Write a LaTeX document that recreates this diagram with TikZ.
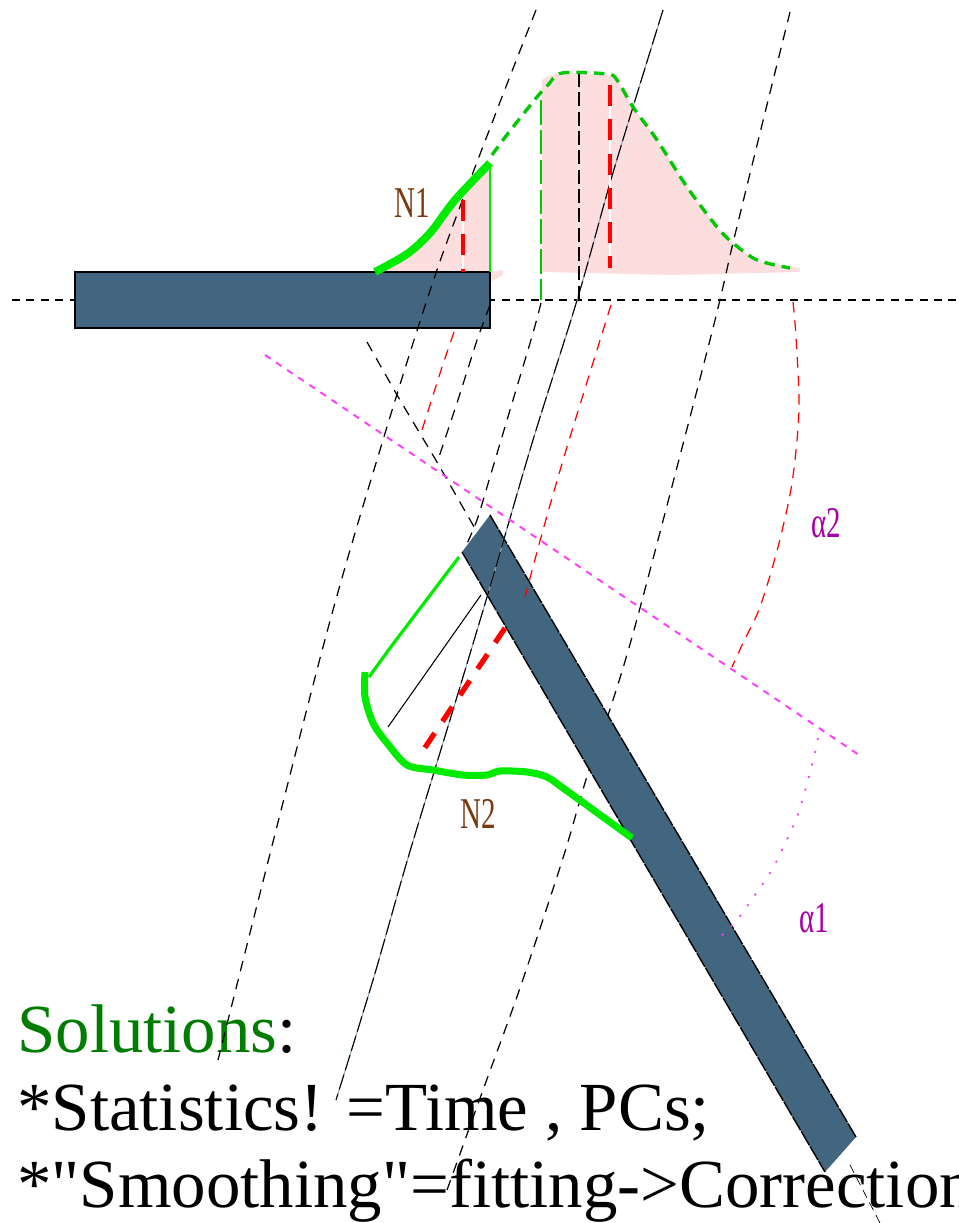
\documentclass[tikz,border=0pt]{standalone}
\usepackage{fontspec}
\setmainfont{Liberation Serif}
\newfontfamily\narrowfont[FakeStretch=0.66]{Liberation Serif}
\newfontfamily\plainfont{Liberation Serif}
\usepackage{xcolor}
\definecolor{beltblue}{RGB}{67,102,128}
\definecolor{softpink}{RGB}{253,222,222}
\definecolor{brightgreen}{RGB}{0,235,0}
\definecolor{dashgreen}{RGB}{0,200,0}
\definecolor{textgreen}{RGB}{0,125,0}
\definecolor{softmagenta}{RGB}{255,60,255}
\definecolor{labelpurple}{RGB}{165,0,170}
\definecolor{labelbrown}{RGB}{122,58,16}
\tikzset{
    belt/.style={fill=beltblue},
    thindash/.style={line width=0.7pt, dash pattern=on 6pt off 4.5pt},
    bigred/.style={red, line width=2.6pt, dash pattern=on 12pt off 7.5pt},
    magdash/.style={softmagenta, line width=1.1pt, dash pattern=on 3.8pt off 3.8pt},
    smalllabel/.style={font=\narrowfont\fontsize{25}{25}\selectfont, inner sep=0pt},
    bigtext/.style={font=\plainfont\fontsize{39.2}{39.2}\selectfont, inner sep=0pt, anchor=base west}
}
\begin{document}
\begin{tikzpicture}[x=0.02cm, y=-0.02cm]
    \useasboundingbox (0,0) rectangle (959,1223);
    \clip (0,0) rectangle (959,1223);

    % Text at the bottom
    \node[bigtext] (sol) at (17,1052) {\textcolor{textgreen}{Solutions}:};
    \node[bigtext] (stat) at (17,1130) {*Statistics! =Time , PCs;};
    \node[bigtext] (smooth) at (17,1207) {*"Smoothing"=fitting->Correction};

    % Pink areas under the profile
    \fill[softpink] (375,272) -- (407,254) -- (430,233) -- (455,200) -- (490,163) -- (490,272)
        -- (503,270) -- (503,275) -- (490,282) -- (490,272) -- cycle;
    \fill[softpink] plot[smooth] coordinates {(542,80) (560,73) (607,75) (617,80) (633,107)
        (657,140) (687,187) (717,227) (733,243) (757,260) (800,268)}
        -- (800,272) -- (673,275) -- (542,272) -- cycle;

    % Horizontal beam axis and flat belt
    \draw[line width=0.8pt, dash pattern=on 4.5pt off 3.7pt] (12,300) -- (959,300);
    \draw[belt, draw=black, line width=0.9pt] (75,272) rectangle (490,328);

    % Right ray passes behind the inclined belt
    \draw[thindash] plot[smooth] coordinates {(790,12) (760,133) (733,243) (712,332) (640,608) (613,700) (588,773) (563,858) (520,988) (483,1090) (447,1190)};

    % Inclined belt
    \fill[belt] (490,515) -- (462,552) -- (825,1172) -- (856,1137) -- cycle;
    \draw[line width=0.8pt, dash pattern=on 9pt off 0.8pt] (490,515) -- (856,1137);
    \draw[line width=0.8pt, dash pattern=on 9pt off 0.8pt] (462,552) -- (825,1172);

    % Long dashed rays
    \draw[thindash] plot[smooth] coordinates {(536,10) (497,110) (438,267) (383,440) (323,647) (218,1060)};
    \draw[thindash] (490,305) -- (478,337) -- (457,403) -- (437,463);
    \draw[thindash] plot[smooth] coordinates {(541,303) (533,333) (513,400) (490,477) (477,520) (465,548)};
    \draw[thindash] (367,342) -- (397,395) -- (437,462) -- (477,532);
    \draw[line width=0.4pt, dash pattern=on 5pt off 3pt] (850,1165) -- (880,1223);

    % Central ray
    \draw[beltblue!60, line width=0.6pt] plot[smooth] coordinates {(663,10) (633,107) (610,183) (578,297) (533,440) (490,587) (453,710) (408,858) (373,980) (336,1100)};
    \draw[line width=0.6pt, dash pattern=on 9pt off 2.5pt] plot[smooth] coordinates {(663,10) (633,107) (610,183) (578,297) (533,440) (490,587) (453,710) (408,858) (373,980) (336,1100)};

    % Thin red rays and arc
    \draw[red, thindash] plot[smooth] coordinates {(611,305) (567,447) (543,530) (525,597)};
    \draw[red, thindash] (454,332) -- (442,367) -- (422,430);
    \draw[red, thindash] plot[smooth] coordinates {(793,302) (796,337) (799,410) (792,483) (778,547) (760,607) (743,643) (732,667)};

    % Magenta line and dotted arc
    \draw[magdash] (265,355) -- (862,757);
    \draw[softmagenta, line width=1pt, dash pattern=on 1.2pt off 6.2pt] plot[smooth] coordinates {(818,738) (815,753) (808,780) (797,817) (782,850) (770,873) (750,902) (737,920) (722,935)};

    % Profile on the flat belt
    \draw[dashgreen, line width=0.6pt, dash pattern=on 14pt off 3pt] (541,100) -- (541,300);
    \draw[thindash, dash pattern=on 8pt off 3pt] (579,73) -- (579,300);
    \draw[white, line width=0.8pt] (463,200) -- (463,272);
    \draw[white, line width=0.8pt] (610,85) -- (610,268);
    \draw[bigred] (463,200) -- (463,272);
    \draw[bigred] (610,85) -- (610,268);
    \draw[brightgreen, line width=0.7pt] (490,165) -- (490,272);
    \draw[dashgreen, line width=1.9pt, dash pattern=on 6pt off 4pt] plot[smooth] coordinates {(492,155) (503,140) (513,127) (537,97) (548,85) (562,73) (607,74) (617,80) (633,107) (657,140) (687,187) (717,227) (733,243) (757,260) (790,268)};
    \draw[brightgreen, line width=4.5pt] plot[smooth] coordinates {(375,272) (407,254) (430,233) (455,200) (490,163)};

    % Profile on the inclined belt
    \draw[brightgreen, line width=1.8pt] (459,557) -- (390,648) -- (369,677);
    \draw[line width=0.6pt] (481,595) -- (388,727);
    \draw[red, line width=3pt, dash pattern=on 10pt off 8pt] (505,628) -- (420,755);
    \draw[brightgreen, line width=4pt] plot[smooth] coordinates {(365,672) (365,697) (373,723) (387,743) (407,765) (433,770) (463,775) (487,775) (500,771) (527,772) (547,777) (563,788) (632,838)};

    % Labels
    \node[smalllabel, labelbrown] (n1) at (412,203) {N1};
    \node[smalllabel, labelbrown] (n2) at (478,814) {N2};
    \node[smalllabel, labelpurple] (a2) at (826,523) {α2};
    \node[smalllabel, labelpurple] (a1) at (814,918) {α1};
\end{tikzpicture}
\end{document}
